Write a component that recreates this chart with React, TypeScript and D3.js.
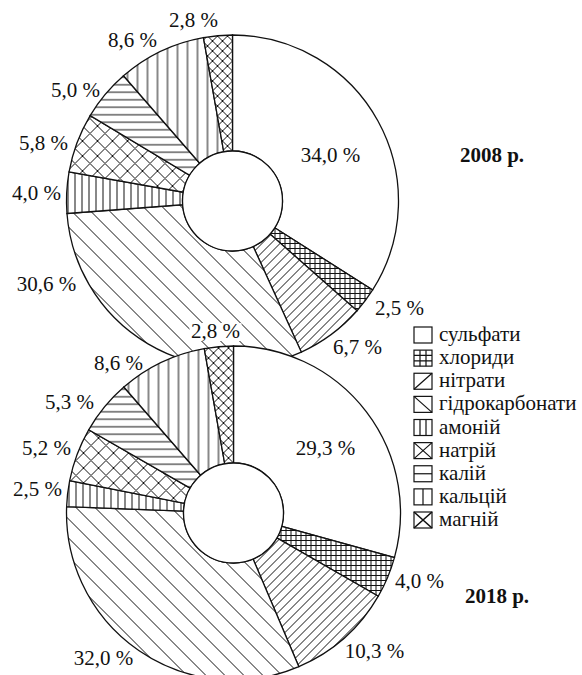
import React from "react";
import * as d3 from "d3";

// categories, in drawing order (clockwise from 12 o'clock)
const categories = [
  "сульфати",
  "хлориди",
  "нітрати",
  "гідрокарбонати",
  "амоній",
  "натрій",
  "калій",
  "кальцій",
  "магній",
];
const values2008 = [34.0, 2.5, 6.7, 30.6, 4.0, 5.8, 5.0, 8.6, 2.8];
const values2018 = [29.3, 4.0, 10.3, 32.0, 2.5, 5.2, 5.3, 8.6, 2.8];
const years = ["2008 р.", "2018 р."];

// label offsets from the chart centre (text centre x, baseline y)
const labelPos2008: [number, number][] = [
  [98, -39], [167, 114], [125, 153], [-186, 90], [-196, -1],
  [-189, -51], [-157, -104], [-100, -154], [-39, -174],
];
const labelPos2018: [number, number][] = [
  [92, -58], [186, 75], [141, 145], [-130, 152], [-196, -17],
  [-187, -58], [-164, -104], [-115, -143], [-18, -175],
];

const FONT = "'Liberation Serif', 'Times New Roman', serif";
const patternIds = ["", "p-chl", "p-nit", "p-hyd", "p-amm", "p-na", "p-k", "p-ca", "p-mg"];
const fmt = (v: number) => v.toFixed(1).replace(".", ",") + " %";

const Patterns = () => {
  const st = { stroke: "#111", strokeWidth: 1, fill: "none" };
  const tile = (id: string, s: number, d: string) => (
    <pattern id={id} key={id} width={s} height={s} patternUnits="userSpaceOnUse">
      <rect width={s} height={s} fill="#fff" />
      <path d={d} {...st} />
    </pattern>
  );
  return (
    <defs>
      {tile("p-chl", 5, "M0 2.5 H5 M2.5 0 V5")}
      {tile("p-nit", 9, "M-1 1 L1 -1 M0 9 L9 0 M8 10 L10 8")}
      {tile("p-hyd", 19, "M0 0 L19 19 M-1 18 L1 20 M18 -1 L20 1")}
      {tile("p-amm", 7, "M3.5 0 V7")}
      {tile("p-na", 15, "M0 0 L15 15 M15 0 L0 15")}
      {tile("p-k", 7.5, "M0 3.75 H7.5")}
      {tile("p-ca", 10, "M5 0 V10")}
      {tile("p-mg", 10, "M0 0 L10 10 M10 0 L0 10")}
    </defs>
  );
};

const Donut = ({
  values, cx, cy, r, r0, labels, whiteLabelIdx,
}: {
  values: number[]; cx: number; cy: number; r: number; r0: number;
  labels: [number, number][]; whiteLabelIdx?: number;
}) => {
  const pie = d3.pie<number>().sort(null).value((d) => d)(values);
  const arc = d3.arc<d3.PieArcDatum<number>>().innerRadius(r0).outerRadius(r);
  return (
    <g>
      <g transform={`translate(${cx},${cy})`}>
        <circle r={r} fill="#fff" />
        {pie.map((p, i) => (
          <path
            key={i}
            d={arc(p) || ""}
            fill={patternIds[i] ? `url(#${patternIds[i]})` : "#fff"}
            stroke="#111"
            strokeWidth={1.3}
          />
        ))}
        <circle r={r0} fill="#fff" stroke="#111" strokeWidth={1.3} />
      </g>
      {values.map((v, i) => {
        const [dx, dy] = labels[i];
        return (
          <g key={i}>
            {whiteLabelIdx === i && (
              <rect x={cx + dx - 26} y={cy + dy - 15} width={52} height={18} fill="#fff" />
            )}
            <text x={cx + dx} y={cy + dy} textAnchor="middle" fontSize={21} fontFamily={FONT} fill="#111">
              {fmt(v)}
            </text>
          </g>
        );
      })}
    </g>
  );
};

const LegendIcon = ({ i, x, y, w, h }: { i: number; x: number; y: number; w: number; h: number }) => {
  const paths = [
    "",
    `M${x + w / 3} ${y} V${y + h} M${x + (2 * w) / 3} ${y} V${y + h} M${x} ${y + h / 3} H${x + w} M${x} ${y + (2 * h) / 3} H${x + w}`,
    `M${x} ${y + h} L${x + w} ${y}`,
    `M${x} ${y} L${x + w} ${y + h}`,
    `M${x + w / 3} ${y} V${y + h} M${x + (2 * w) / 3} ${y} V${y + h}`,
    `M${x} ${y} L${x + w} ${y + h} M${x + w} ${y} L${x} ${y + h}`,
    `M${x} ${y + h / 2} H${x + w}`,
    `M${x + w / 2} ${y} V${y + h}`,
    `M${x} ${y} L${x + w} ${y + h} M${x + w} ${y} L${x} ${y + h}`,
  ];
  return (
    <g>
      <rect x={x} y={y} width={w} height={h} fill="#fff" stroke="#111" strokeWidth={1.2} />
      {paths[i] && <path d={paths[i]} stroke="#111" strokeWidth={i === 8 ? 1.6 : 1.2} fill="none" />}
    </g>
  );
};

export default function App() {
  const legendX = 414;
  const legendY = d3.scalePoint<string>().domain(categories).range([335, 520]);
  return (
    <svg width={582} height={675} style={{ position: "absolute", left: 0, top: 0, background: "#fff" }}>
      <Patterns />
      <Donut values={values2008} cx={232.5} cy={201} r={166} r0={50} labels={labelPos2008} />
      <text x={492} y={162} textAnchor="middle" fontSize={21} fontWeight="bold" fontFamily={FONT} fill="#111">
        {years[0]}
      </text>
      <Donut values={values2018} cx={233.5} cy={513} r={167} r0={50} labels={labelPos2018} whiteLabelIdx={8} />
      <text x={497} y={603} textAnchor="middle" fontSize={21} fontWeight="bold" fontFamily={FONT} fill="#111">
        {years[1]}
      </text>
      {categories.map((c, i) => {
        const yc = legendY(c) as number;
        return (
          <g key={c}>
            <LegendIcon i={i} x={legendX} y={yc - 8} w={18} h={16} />
            <text x={legendX + 25} y={yc + 6} fontSize={21} fontFamily={FONT} fill="#111">
              {c}
            </text>
          </g>
        );
      })}
    </svg>
  );
}
